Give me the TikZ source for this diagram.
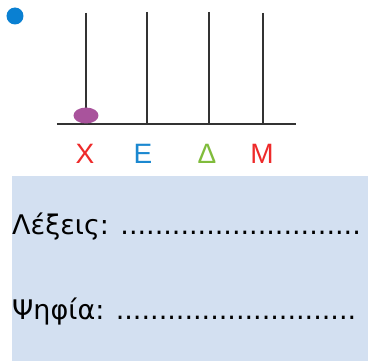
\documentclass[tikz,border=0pt]{standalone}
\usepackage{fontspec}
\setmainfont{DejaVu Sans}
\newfontfamily\labfont{Liberation Sans}
\definecolor{rodgray}{HTML}{333333}
\definecolor{beadpurple}{HTML}{A9539C}
\definecolor{bulletblue}{HTML}{0A80D2}
\definecolor{boxblue}{HTML}{D3E0F1}
\definecolor{labred}{HTML}{EE2A2A}
\definecolor{labblue}{HTML}{1B88D0}
\definecolor{labgreen}{HTML}{80BC3C}
\begin{document}
\begin{tikzpicture}[x=1pt,y=-1pt,
  rod/.style={draw=rodgray,line width=2.4pt},
  lab/.style={font=\labfont\fontsize{28}{30}\selectfont,anchor=base,inner sep=0pt},
  linetext/.style={font=\fontsize{27}{30}\selectfont,anchor=base west,inner sep=0pt}]
\useasboundingbox (0,0) rectangle (368,361);
\fill[white] (0,0) rectangle (368,361);
% bullet
\fill[bulletblue] (15,16) circle (8.5);
% rods
\coordinate (b1) at (86,124); \coordinate (t1) at (86,13);
\coordinate (b2) at (147,124); \coordinate (t2) at (147,12);
\coordinate (b3) at (209,124); \coordinate (t3) at (209,12);
\coordinate (b4) at (263,124); \coordinate (t4) at (263,13);
\coordinate (bl) at (57,124); \coordinate (br) at (296,124);
\draw[rod] (t1) -- (b1);
\draw[rod] (t2) -- (b2);
\draw[rod] (t3) -- (b3);
\draw[rod] (t4) -- (b4);
\draw[rod] (bl) -- (br);
% bead
\fill[beadpurple] (86,115.5) ellipse [x radius=12.5, y radius=8];
% labels
\node[lab,text=labred] (lx) at (85,164) {X};
\node[lab,text=labblue] (le) at (143,164) {E};
\node[lab,text=labgreen] (ld) at (207,164) {Δ};
\node[lab,text=labred] (lm) at (262,164) {M};
% box
\fill[boxblue] (12,176) rectangle (368,361);
\node[linetext] (lexeis) at (12,235) {Λέξεις: ............................};
\node[linetext] (psifia) at (12,320) {Ψηφία: ............................};
\end{tikzpicture}
\end{document}
